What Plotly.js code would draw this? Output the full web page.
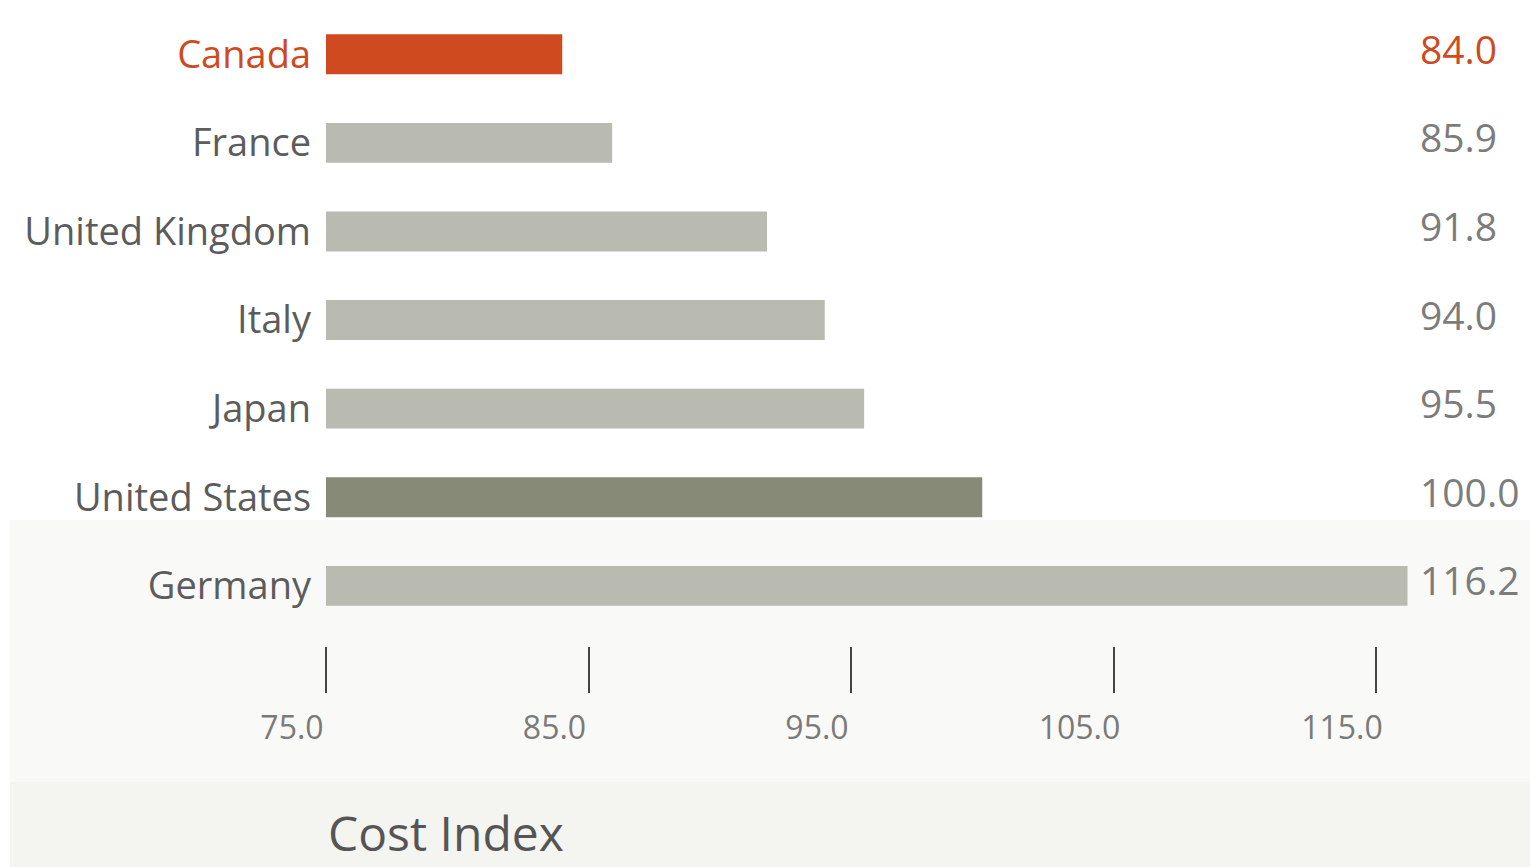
<!DOCTYPE html>
<html>
<head>
<meta charset="utf-8">
<script src="https://cdn.plot.ly/plotly-3.0.1.min.js"></script>
<style>html,body{margin:0;padding:0;background:#fff;}#chart{width:1530px;height:867px;}</style>
</head>
<body>
<div id="chart"></div>
<script>
// Data
const countries = ["Canada", "France", "United Kingdom", "Italy", "Japan", "United States", "Germany"];
const costIndex = [84.0, 85.9, 91.8, 94.0, 95.5, 100.0, 116.2];
const tickValues = [75, 85, 95, 105, 115];
const axisTitle = "Cost Index";
const highlight = "Canada";
const baseline = "United States";

// Styles
const HIGHLIGHT_COLOR = "#cf4a1e";
const BASE_COLOR = "#878a77";
const OTHER_COLOR = "#b9bab0";
const FONT = "Open Sans, Liberation Sans, sans-serif";

const W = 1530, H = 867;
const M = {l: 326, r: 120, t: 10, b: 221};
const plotW = W - M.l - M.r, plotH = H - M.t - M.b;
const px2x = p => (p - M.l) / plotW;
const px2y = p => (H - M.b - p) / plotH;

const barColors = countries.map(c => c === highlight ? HIGHLIGHT_COLOR : (c === baseline ? BASE_COLOR : OTHER_COLOR));
const ticktext = countries.map(c => c === highlight ? `<span style="color:${HIGHLIGHT_COLOR}">${c}</span>` : c);

const trace = {
  type: "bar",
  orientation: "h",
  y: countries,
  x: costIndex,
  marker: {color: barColors},
  width: 0.45,
  hoverinfo: "x+y"
};

const annotations = countries.map((c, i) => ({
  xref: "paper", yref: "y",
  x: 1, y: c,
  xanchor: "left", yanchor: "middle",
  xshift: 8, yshift: 6,
  text: costIndex[i].toFixed(1),
  showarrow: false,
  font: {family: FONT, size: 39, color: c === highlight ? HIGHLIGHT_COLOR : "#7c7c7c"}
}));
annotations.push({
  xref: "paper", yref: "paper",
  x: 0, y: px2y(832),
  xanchor: "left", yanchor: "middle",
  text: axisTitle,
  showarrow: false,
  font: {family: FONT, size: 48, color: "#555555"}
});

const shapes = [
  {type: "rect", xref: "paper", yref: "paper", layer: "below",
   x0: px2x(10), x1: px2x(W), y0: px2y(520), y1: px2y(H),
   fillcolor: "#f9f9f7", line: {width: 0}},
  {type: "rect", xref: "paper", yref: "paper", layer: "below",
   x0: px2x(10), x1: px2x(W), y0: px2y(782), y1: px2y(H),
   fillcolor: "#f4f4f1", line: {width: 0}}
];

const layout = {
  width: W, height: H,
  margin: M,
  paper_bgcolor: "#ffffff",
  plot_bgcolor: "rgba(0,0,0,0)",
  showlegend: false,
  bargap: 0.5,
  xaxis: {
    range: [75, 75 + plotW / 26.25],
    anchor: "free", position: 0,
    tickvals: tickValues,
    tickformat: ".1f",
    ticks: "outside", ticklen: 46, tickwidth: 2, tickcolor: "#444444",
    ticklabelshift: -34,
    ticklabelstandoff: 8,
    showgrid: false, zeroline: false, showline: false,
    tickfont: {family: FONT, size: 32, color: "#7a7a7a"},
    fixedrange: true
  },
  yaxis: {
    domain: [0.025, 1],
    autorange: "reversed",
    tickvals: countries,
    ticktext: ticktext,
    ticks: "", ticklabelstandoff: 14,
    showgrid: false, zeroline: false, showline: false,
    tickfont: {family: FONT, size: 38, color: "#5c5c5c"},
    fixedrange: true
  },
  annotations: annotations,
  shapes: shapes
};

Plotly.newPlot("chart", [trace], layout, {displayModeBar: false, staticPlot: true});
</script>
</body>
</html>
